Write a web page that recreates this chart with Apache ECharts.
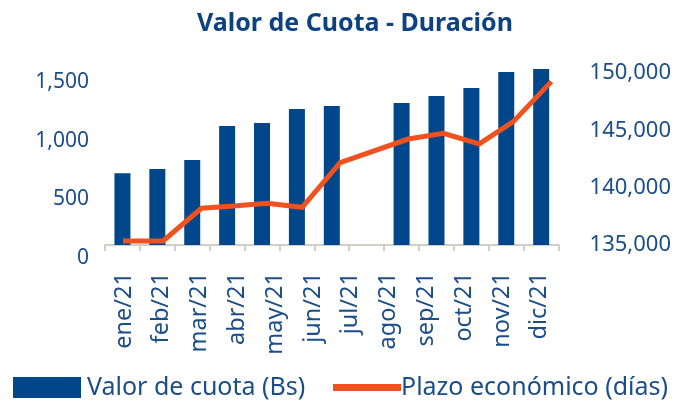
<!DOCTYPE html>
<html>
<head>
<meta charset="utf-8">
<script src="https://cdn.jsdelivr.net/npm/echarts@6/dist/echarts.min.js"></script>
<style>
html,body{margin:0;padding:0;background:#fff;}
#chart{width:674px;height:408px;}
</style>
</head>
<body>
<div id="chart"></div>
<script>
// Category labels (shown under the axis)
var months = ['ene/21','feb/21','mar/21','abr/21','may/21','jun/21','jul/21','ago/21','sep/21','oct/21','nov/21','dic/21'];
// Bar slots (13 periods, one without data)
var barPeriods = ['ene/21','feb/21','mar/21','abr/21','may/21','jun/21','jul/21','','ago/21','sep/21','oct/21','nov/21','dic/21'];
// Valor de cuota (Bs) - right axis
var cuotaValues = [141250, 141630, 142410, 145380, 145640, 146860, 147120, null, 147380, 147990, 148690, 150090, 150350];
// Plazo económico (días) - left axis, with observation time (in periods)
var plazoTime = [0.5, 1.62, 2.69, 3.5, 4.52, 5.5, 6.56, 8.46, 9.44, 10.44, 11.39, 12.45];
var plazoValues = [145, 145, 424, 442, 466, 432, 812, 1014, 1063, 972, 1162, 1503];
// Tick values
var leftTicks = {min: 0, max: 1500, interval: 500};
var rightTicks = {min: 135000, max: 151000, interval: 5000};

var BLUE = '#00468b';
var ORANGE = '#f0521f';
var TEXT = '#1b4d8a';
var AXIS = '#cfcfc6';
var FONT = 'Noto Sans';

function fmt(v){ return Number(v).toLocaleString('en-US'); }

var chart = echarts.init(document.getElementById('chart'), null, {renderer:'canvas'});
chart.setOption({
  animation: false,
  backgroundColor: '#ffffff',
  title: {
    text: 'Valor de Cuota - Duración',
    left: 350, top: 6, textAlign: 'center',
    textStyle: {fontFamily: FONT, fontSize: 25, fontWeight: 'bold', color: '#0c4282'}
  },
  legend: [
    {
      data: ['Valor de cuota (Bs)'],
      left: 13, top: 375, padding: 0,
      icon: 'rect', itemWidth: 68, itemHeight: 21, itemGap: 0,
      textStyle: {fontFamily: FONT, fontSize: 25, color: TEXT, padding: [0,0,0,1]}
    },
    {
      data: ['Plazo económico (días)'],
      left: 333, top: 375, padding: 0,
      icon: 'rect', itemWidth: 68, itemHeight: 7, itemGap: 0,
      textStyle: {fontFamily: FONT, fontSize: 25, color: TEXT, padding: [0,0,0,-5]}
    }
  ],
  grid: [
    {left: 105, right: 103, top: 61.5, bottom: 163, containLabel: false},
    {left: 105, right: 103, top: 82, bottom: 150, containLabel: false}
  ],
  xAxis: [
    {
      type: 'category', data: months, position: 'bottom', gridIndex: 0,
      axisLine: {show: false}, axisTick: {show: false},
      axisLabel: {rotate: 90, margin: 27, fontFamily: FONT, fontSize: 23.5, color: TEXT, interval: 0}
    },
    {
      type: 'category', data: barPeriods, position: 'bottom', gridIndex: 0,
      axisLine: {show: true, lineStyle: {color: AXIS, width: 2}},
      axisTick: {show: true, length: 6, lineStyle: {color: AXIS, width: 2}, interval: 0},
      axisLabel: {show: false}
    },
    {
      type: 'value', min: 0, max: 13, show: false, gridIndex: 1
    }
  ],
  yAxis: [
    {
      type: 'value', position: 'left', gridIndex: 1,
      min: leftTicks.min, max: leftTicks.max, interval: leftTicks.interval,
      axisLine: {show: false}, axisTick: {show: false}, splitLine: {show: false},
      axisLabel: {margin: 16, fontFamily: FONT, fontSize: 21, color: TEXT, formatter: fmt}
    },
    {
      type: 'value', position: 'right', gridIndex: 0,
      min: rightTicks.min, max: rightTicks.max, interval: rightTicks.interval,
      axisLine: {show: false}, axisTick: {show: false}, splitLine: {show: false},
      axisLabel: {margin: 31, fontFamily: FONT, fontSize: 22, color: TEXT, formatter: fmt, showMaxLabel: false}
    }
  ],
  series: [
    {
      name: 'Valor de cuota (Bs)', type: 'bar',
      xAxisIndex: 1, yAxisIndex: 1,
      data: cuotaValues, barWidth: 16,
      itemStyle: {color: BLUE}
    },
    {
      name: 'Plazo económico (días)', type: 'line',
      xAxisIndex: 2, yAxisIndex: 0,
      data: plazoTime.map(function(t,i){ return [t, plazoValues[i]]; }),
      showSymbol: false, symbol: 'none', clip: false, z: 3,
      lineStyle: {color: ORANGE, width: 5, cap: 'butt', join: 'miter'},
      itemStyle: {color: ORANGE}
    }
  ]
});
</script>
</body>
</html>
